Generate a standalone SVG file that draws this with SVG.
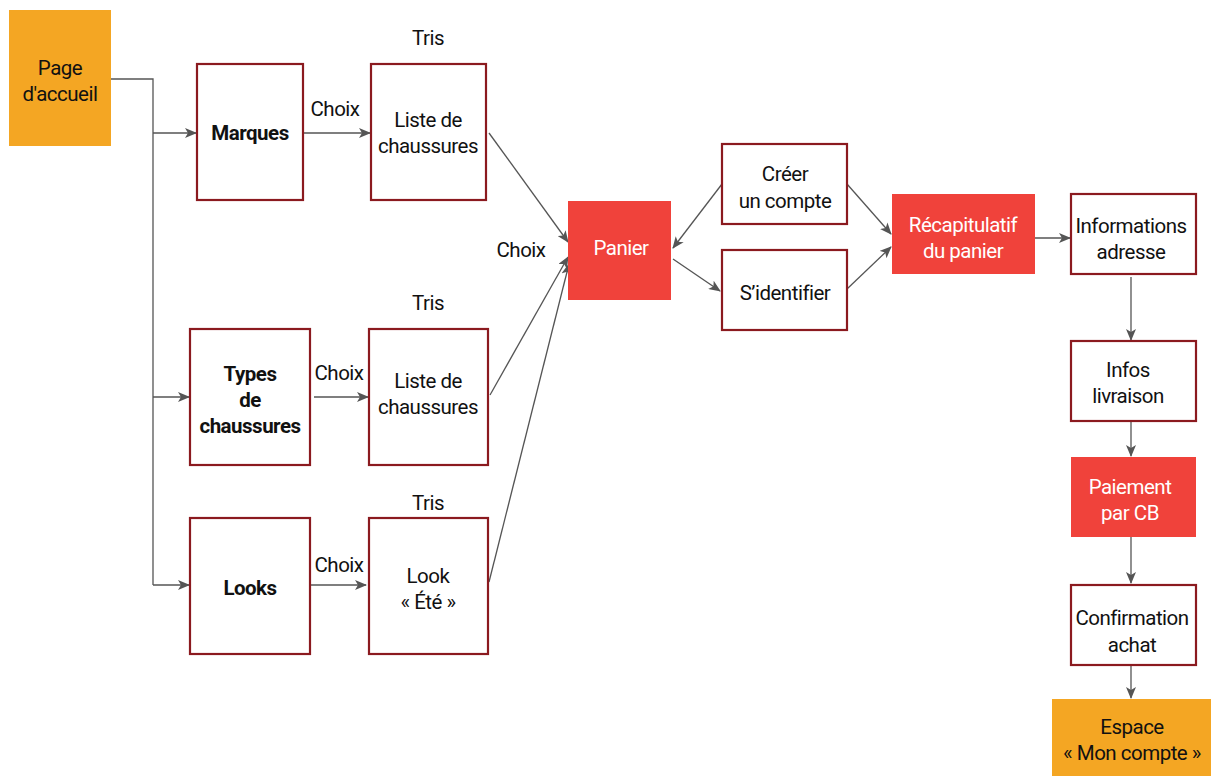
<svg xmlns="http://www.w3.org/2000/svg" width="1211" height="776" viewBox="0 0 1211 776">
<style>
text{font-family:Roboto,"Liberation Sans",sans-serif;font-size:20.5px;letter-spacing:-0.5px;fill:#111;text-anchor:middle}
.b{font-weight:bold}
.w{fill:#fff}
.box{fill:#fff;stroke:#8b1a1f;stroke-width:2.2}
.red{fill:#f0423b}
.org{fill:#f4a623}
.c{fill:none;stroke:#555;stroke-width:1.3}
</style>
<defs>
<marker id="a" markerWidth="12" markerHeight="10" refX="11" refY="5" orient="auto" markerUnits="userSpaceOnUse">
<path d="M0,0 L12,5 L0,10 L3,5 Z" fill="#555"/>
</marker>
</defs>
<g id="connectors">
<path class="c" d="M111,79 H153 V585"/>
<path class="c" d="M153,133 H196" marker-end="url(#a)"/>
<path class="c" d="M153,397 H189" marker-end="url(#a)"/>
<path class="c" d="M153,585 H189" marker-end="url(#a)"/>
<path class="c" d="M303,133 H370" marker-end="url(#a)"/>
<path class="c" d="M314,397 H368" marker-end="url(#a)"/>
<path class="c" d="M310,585 H366" marker-end="url(#a)"/>
<path class="c" d="M489,133 L568,242" marker-end="url(#a)"/>
<path class="c" d="M490,395 L568,257" marker-end="url(#a)"/>
<path class="c" d="M489,582 L569,264" marker-end="url(#a)"/>
<path class="c" d="M722,184 L673,248" marker-end="url(#a)"/>
<path class="c" d="M673,259 L720,291" marker-end="url(#a)"/>
<path class="c" d="M847,184 L891,234" marker-end="url(#a)"/>
<path class="c" d="M847,289 L891,247" marker-end="url(#a)"/>
<path class="c" d="M1035,238 H1070" marker-end="url(#a)"/>
<path class="c" d="M1131,277 V340" marker-end="url(#a)"/>
<path class="c" d="M1131,421 V456" marker-end="url(#a)"/>
<path class="c" d="M1131,537 V583" marker-end="url(#a)"/>
<path class="c" d="M1131,665 V698" marker-end="url(#a)"/>
</g>
<g id="labels">
<text x="428" y="45">Tris</text>
<text x="335" y="116">Choix</text>
<text x="428" y="310">Tris</text>
<text x="339" y="380">Choix</text>
<text x="428" y="510">Tris</text>
<text x="339" y="572">Choix</text>
<text x="521" y="257">Choix</text>
</g>
<g id="accueil"><rect class="org" x="9" y="10" width="102" height="136"/><text x="60" y="75">Page</text><text x="60" y="101">d'accueil</text></g>
<g id="marques"><rect class="box" x="197" y="64" width="106" height="136"/><text class="b" x="250" y="140">Marques</text></g>
<g id="liste1"><rect class="box" x="371" y="64" width="115" height="136"/><text x="428" y="127">Liste de</text><text x="428" y="153">chaussures</text></g>
<g id="types"><rect class="box" x="190" y="329" width="120" height="136"/><text class="b" x="250" y="381">Types</text><text class="b" x="250" y="407">de</text><text class="b" x="250" y="433">chaussures</text></g>
<g id="liste2"><rect class="box" x="369" y="329" width="119" height="136"/><text x="428" y="388">Liste de</text><text x="428" y="414">chaussures</text></g>
<g id="looks"><rect class="box" x="190" y="518" width="120" height="136"/><text class="b" x="250" y="595">Looks</text></g>
<g id="look"><rect class="box" x="369" y="518" width="119" height="136"/><text x="428" y="583">Look</text><text x="428" y="609">« Été »</text></g>
<g id="panier"><rect class="red" x="568" y="201" width="103" height="99"/><text class="w" x="621" y="255">Panier</text></g>
<g id="creer"><rect class="box" x="722" y="144" width="125" height="80"/><text x="785" y="181">Créer</text><text x="785" y="208">un compte</text></g>
<g id="identifier"><rect class="box" x="722" y="250" width="125" height="80"/><text x="785" y="300">S’identifier</text></g>
<g id="recap"><rect class="red" x="892" y="194" width="143" height="80"/><text class="w" x="963" y="232">Récapitulatif</text><text class="w" x="963" y="258">du panier</text></g>
<g id="adresse"><rect class="box" x="1071" y="194" width="125" height="80"/><text x="1131" y="233">Informations</text><text x="1131" y="259">adresse</text></g>
<g id="livraison"><rect class="box" x="1071" y="341" width="125" height="80"/><text x="1128" y="377">Infos</text><text x="1128" y="403">livraison</text></g>
<g id="paiement"><rect class="red" x="1071" y="457" width="125" height="80"/><text class="w" x="1130" y="494">Paiement</text><text class="w" x="1130" y="520">par CB</text></g>
<g id="confirmation"><rect class="box" x="1071" y="585" width="125" height="80"/><text x="1132" y="625">Confirmation</text><text x="1132" y="652">achat</text></g>
<g id="espace"><rect class="org" x="1052" y="699" width="159" height="77"/><text x="1132" y="734">Espace</text><text x="1132" y="760">« Mon compte »</text></g>
</svg>
